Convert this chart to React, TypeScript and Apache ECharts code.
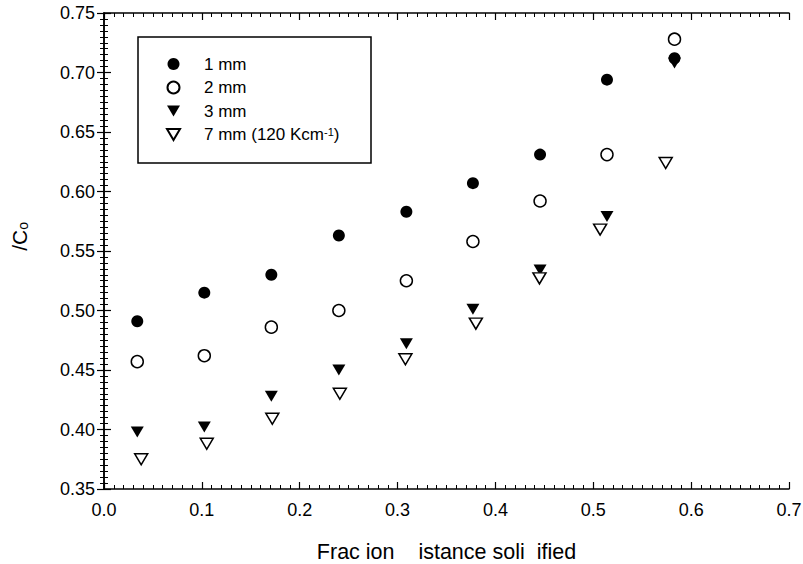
import React, { useEffect, useRef } from "react";
import * as echarts from "echarts";

const SERIES_NAMES = ["1 mm", "2 mm", "3 mm", "7 mm (120 Kcm-1)"];
const X_MAIN = [0.034, 0.1025, 0.171, 0.24, 0.309, 0.377, 0.4456, 0.514, 0.583];
const X_7MM = [0.038, 0.105, 0.172, 0.241, 0.308, 0.38, 0.445, 0.507, 0.574];
const Y_1MM = [0.491, 0.515, 0.53, 0.563, 0.583, 0.607, 0.631, 0.694, 0.712];
const Y_2MM = [0.457, 0.462, 0.486, 0.5, 0.525, 0.558, 0.592, 0.631, 0.728];
const Y_3MM = [0.398, 0.402, 0.428, 0.45, 0.472, 0.501, 0.534, 0.579, 0.708];
const Y_7MM = [0.375, 0.388, 0.409, 0.43, 0.459, 0.489, 0.527, 0.568, 0.624];
const X_TITLE = "Frac ion    istance soli  ified";
const Y_TITLE = "     /C";
const Y_TITLE_SUB = "o";

const FONT = "'Liberation Sans', Arial, sans-serif";
const DOWN_TRIANGLE = "path://M0,0 L26,0 L13,22 Z";

function pairs(xs: number[], ys: number[]) {
  return xs.map((x, i) => [x, ys[i]]);
}

export default function App() {
  const ref = useRef<HTMLDivElement>(null);
  useEffect(() => {
    if (!ref.current) return;
    const chart = echarts.init(ref.current, undefined, { renderer: "svg" });
    const grid = { left: 104, right: 14, top: 13, bottom: 75, containLabel: false, outerBoundsMode: "none" };
    const filled = { color: "#000", opacity: 1 };
    const open = { color: "#fff", borderColor: "#000", borderWidth: 1.5, opacity: 1 };
    const mk = (name: string, data: number[][], symbol: string, rot: number, style: any) => ({
      name,
      type: "scatter",
      data,
      symbol,
      symbolSize: symbol === "circle" ? 12 : [13, 11],
      symbolRotate: rot,
      itemStyle: style,
      xAxisIndex: 0,
      yAxisIndex: 0,
    });
    const axisCommon = {
      type: "value",
      axisLine: { show: true, lineStyle: { color: "#000", width: 1.5 } },
      axisTick: { show: true, inside: true, length: 7, lineStyle: { color: "#000", width: 1.2 } },
      minorTick: { show: true, splitNumber: 10, length: 4, lineStyle: { color: "#000", width: 1 } },
      splitLine: { show: false },
    };
    chart.setOption({
      animation: false,
      backgroundColor: "#fff",
      textStyle: { fontFamily: FONT },
      grid,
      legend: {
        orient: "vertical",
        left: 161,
        top: 50.5,
        itemWidth: 13,
        itemHeight: 12,
        itemGap: 6.5,
        data: [
          { name: SERIES_NAMES[0] },
          { name: SERIES_NAMES[1] },
          { name: SERIES_NAMES[2], icon: DOWN_TRIANGLE },
          { name: SERIES_NAMES[3], icon: DOWN_TRIANGLE },
        ],
        formatter: (name: string) =>
          name === SERIES_NAMES[3]
            ? "{a|7 mm (120 Kcm}{sup|-1}{a|)}"
            : "{a|" + name + "}",
        textStyle: {
          color: "#000",
          fontFamily: FONT,
          fontSize: 17,
          padding: [0, 0, 0, 19],
          rich: {
            a: { fontSize: 17, lineHeight: 17, fontFamily: FONT, color: "#000" },
            sup: { fontSize: 11, lineHeight: 10, fontFamily: FONT, color: "#000", verticalAlign: "top" },
          },
        },
      },
      graphic: [
        {
          type: "rect",
          shape: { x: 138, y: 37, width: 233, height: 126 },
          style: { fill: "none", stroke: "#000", lineWidth: 1.5 },
          z: 10,
        },
      ],
      xAxis: [
        {
          ...axisCommon,
          position: "bottom",
          min: 0,
          max: 0.7,
          interval: 0.1,
          name: X_TITLE,
          nameLocation: "middle",
          nameGap: 52,
          nameTextStyle: { color: "#000", fontSize: 21.5, fontFamily: FONT },
          axisLabel: {
            color: "#000",
            fontSize: 18,
            fontFamily: FONT,
            margin: 12,
            formatter: (v: number) => v.toFixed(1),
          },
        },
        {
          ...axisCommon,
          position: "top",
          min: 0,
          max: 0.7,
          interval: 0.1,
          axisLabel: { show: false },
        },
      ],
      yAxis: [
        {
          ...axisCommon,
          position: "left",
          min: 0.35,
          max: 0.75,
          interval: 0.05,
          name: "{a|" + Y_TITLE + "}{sub|" + Y_TITLE_SUB + "}",
          nameLocation: "middle",
          nameGap: 74,
          nameRotate: 90,
          nameTextStyle: {
            color: "#000",
            fontFamily: FONT,
            rich: {
              a: { fontSize: 21, fontFamily: FONT, color: "#000" },
              sub: { fontSize: 14, fontFamily: FONT, color: "#000", verticalAlign: "bottom", padding: [8, 0, 0, 0] },
            },
          },
          axisLabel: {
            color: "#000",
            fontSize: 18,
            fontFamily: FONT,
            margin: 9,
            formatter: (v: number) => v.toFixed(2),
          },
        },
        {
          ...axisCommon,
          position: "right",
          min: 0.35,
          max: 0.75,
          interval: 0.05,
          axisLabel: { show: false },
        },
      ],
      series: [
        mk(SERIES_NAMES[0], pairs(X_MAIN, Y_1MM), "circle", 0, filled),
        mk(SERIES_NAMES[1], pairs(X_MAIN, Y_2MM), "circle", 0, open),
        mk(SERIES_NAMES[2], pairs(X_MAIN, Y_3MM), "triangle", 180, filled),
        mk(SERIES_NAMES[3], pairs(X_7MM, Y_7MM), "triangle", 180, open),
      ],
    });
    return () => chart.dispose();
  }, []);
  return (
    <div
      ref={ref}
      style={{ position: "fixed", left: 0, top: 0, width: 803, height: 564, background: "#fff" }}
    />
  );
}
